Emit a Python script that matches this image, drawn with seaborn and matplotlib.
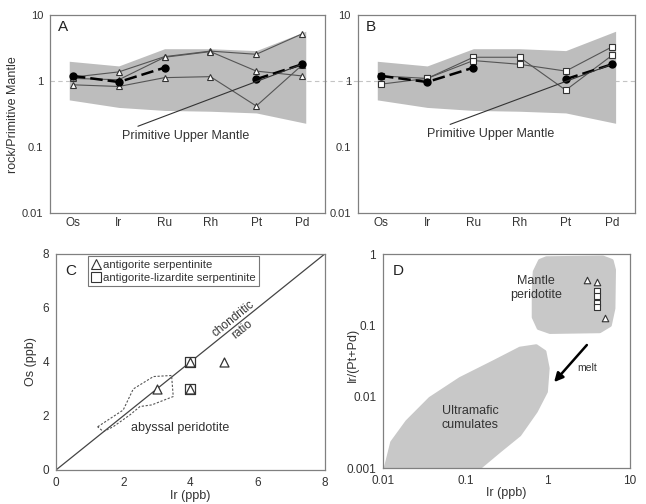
import numpy as np
import pandas as pd
import matplotlib
matplotlib.use('Agg')
import matplotlib.pyplot as plt
from matplotlib.lines import Line2D
from matplotlib.patches import Polygon
from matplotlib.ticker import FixedLocator, NullLocator, FuncFormatter
import seaborn as sns

sns.set_theme(style="white")
plt.rcParams['font.family'] = ['Liberation Sans', 'DejaVu Sans']

# --- data ---
elements = ['Os', 'Ir', 'Ru', 'Rh', 'Pt', 'Pd']

# primitive upper mantle range (gray band) and the PUM pattern
band_hi = [2.0, 1.7, 3.1, 3.1, 2.9, 5.7]
band_lo = [0.52, 0.40, 0.36, 0.35, 0.33, 0.23]
pum = [1.2, 0.97, 1.6, np.nan, 1.07, 1.8]

# panel A: antigorite serpentinites (triangles)
tri_1 = [1.15, 1.38, 2.35, 2.85, 2.55, 5.2]
tri_2 = [1.10, 1.05, 2.30, 2.80, 1.42, 1.2]
tri_3 = [0.88, 0.83, 1.13, 1.17, 0.42, 1.75]

# panel B: antigorite-lizardite serpentinites (squares)
sq_1 = [1.2, 1.1, 2.3, 2.3, 0.73, 2.45]
sq_2 = [0.9, 1.1, 2.05, 1.8, 1.42, 3.3]

# panel C: Os vs Ir (ppb)
c_tri_ir = [3, 4, 4, 5]
c_tri_os = [3, 4, 3, 4]
c_sq_ir = [4, 4]
c_sq_os = [4, 3]
abyssal_ir = [1.24, 2.0, 2.3, 2.9, 3.44, 3.49, 2.85, 2.5, 2.2, 1.7, 1.41]
abyssal_os = [1.6, 2.22, 3.0, 3.46, 3.5, 2.72, 2.41, 2.35, 2.04, 1.6, 1.42]

# panel D: Ir/(Pt+Pd) vs Ir
d_tri_ir = [3, 4, 5]
d_tri_ratio = [0.43, 0.40, 0.125]
d_sq_ir = [4, 4, 4, 4]
d_sq_ratio = [0.30, 0.26, 0.205, 0.178]
mantle_ir = [0.97, 4.7, 6.0, 6.4, 6.3, 5.7, 4.3, 1.07, 0.78, 0.68, 0.68, 0.70, 0.81]
mantle_ratio = [0.87, 0.89, 0.80, 0.60, 0.173, 0.101, 0.083, 0.081, 0.092, 0.13,
                0.3, 0.565, 0.80]
cumul_ir = [0.0106, 0.0127, 0.0194, 0.037, 0.086, 0.22, 0.46, 0.73, 0.93, 1.02,
            0.97, 0.73, 0.46, 0.26, 0.15]
cumul_ratio = [0.001, 0.0023, 0.0045, 0.0095, 0.018, 0.031, 0.048, 0.052, 0.043,
               0.025, 0.0117, 0.0062, 0.0029, 0.0017, 0.001]

# --- style ---
SPINE = '#808080'
TXT = '#333333'
LINE = '#555555'
BAND = '#bdbdbd'
BLOB = '#c8c8c8'

fig = plt.figure(figsize=(6.46, 5.04), dpi=100)
axA = fig.add_axes([0.0774, 0.577, 0.4257, 0.393])
axB = fig.add_axes([0.554, 0.577, 0.429, 0.393])
axC = fig.add_axes([0.0867, 0.0675, 0.416, 0.4286])
axD = fig.add_axes([0.593, 0.0714, 0.382, 0.4246])


def style_axes(ax):
    for s in ax.spines.values():
        s.set_color(SPINE)
        s.set_linewidth(0.9)
    ax.tick_params(axis='both', which='major', direction='out', length=3,
                   width=0.8, color=SPINE, labelcolor=TXT, labelsize=8, pad=2)
    ax.tick_params(which='minor', length=0)


def spider(ax, samples, marker, label, text_xy, relpos, extend_line):
    pos = np.arange(len(elements))
    band_x = pos.astype(float)
    band_x[0] -= 0.08
    band_x[-1] += 0.08
    ax.set_yscale('log')
    ax.fill_between(band_x, band_lo, band_hi, color=BAND, lw=0, zorder=1)
    ax.axhline(1, xmin=0, xmax=extend_line, color='#c4c4c4', lw=0.8,
               dashes=(4, 3), zorder=0.5, clip_on=False)

    rows = []
    for i, vals in enumerate(samples):
        for p, v in zip(pos, vals):
            rows.append({'pos': p, 'value': v, 'sample': i})
    df = pd.DataFrame(rows)
    sns.lineplot(data=df, x='pos', y='value', units='sample', estimator=None,
                 color=LINE, lw=0.8, marker=marker, ms=5, mfc='white',
                 mec='#333333', mew=0.8, ax=ax, zorder=3, legend=False)

    ax.plot(pos, pum, color='black', lw=1.8, dashes=(5, 2), marker='o', ms=5,
            zorder=4)

    ax.annotate('Primitive Upper Mantle', xy=(5, 1.8), xytext=text_xy,
                fontsize=9, color=TXT, ha='center', va='center',
                arrowprops=dict(arrowstyle='-', color='#333333', lw=0.8,
                                relpos=relpos, shrinkA=0, shrinkB=2),
                zorder=5)

    ax.set_xlim(-0.5, 5.5)
    ax.set_ylim(0.01, 10)
    ax.yaxis.set_major_locator(FixedLocator([0.01, 0.1, 1, 10]))
    ax.yaxis.set_minor_locator(NullLocator())
    ax.yaxis.set_major_formatter(FuncFormatter(lambda v, _: f'{v:g}'))
    ax.set_xticks(pos + 0.5)
    ax.set_xticklabels([])
    ax.set_xticks(pos, minor=True)
    ax.set_xticklabels(elements, minor=True)
    style_axes(ax)
    ax.tick_params(axis='x', which='minor', length=0, labelsize=8.5,
                   labelcolor=TXT, pad=3)
    ax.text(0.03, 0.975, label, transform=ax.transAxes, fontsize=11,
            color='#222222', ha='left', va='top')
    ax.set_xlabel('')
    ax.set_ylabel('')


spider(axA, [tri_1, tri_2, tri_3], '^', 'A', (2.45, 0.15), (0.06, 1.0), 1.13)
spider(axB, [sq_1, sq_2], 's', 'B', (2.38, 0.16), (0.11, 1.0), 1.0)
axA.set_ylabel('rock/Primitive Mantle', fontsize=9, color=TXT, labelpad=2)

# --- panel C ---
axC.plot([0, 8], [0, 8], color='#444444', lw=0.9, zorder=2)
axC.add_patch(Polygon(np.column_stack([abyssal_ir, abyssal_os]), closed=True,
                      fill=False, ls=(0, (2, 1.5)), ec='#555555', lw=0.8,
                      zorder=2))
sns.scatterplot(x=c_sq_ir, y=c_sq_os, marker='s', s=42, color='white',
                edgecolor='#333333', linewidth=0.9, ax=axC, zorder=3)
sns.scatterplot(x=c_tri_ir, y=c_tri_os, marker='^', s=42, color='white',
                edgecolor='#333333', linewidth=0.9, ax=axC, zorder=4)
axC.text(5.4, 5.4, 'chondritic\nratio', rotation=45,
         transform_rotates_text=True, rotation_mode='anchor', ha='center',
         va='center', fontsize=8.5, color=TXT, linespacing=1.25)
axC.text(3.7, 1.55, 'abyssal peridotite', fontsize=9, color=TXT,
         ha='center', va='center')
axC.set_xlim(0, 8)
axC.set_ylim(0, 8)
axC.set_xticks([0, 2, 4, 6, 8])
axC.set_yticks([0, 2, 4, 6, 8])
style_axes(axC)
axC.tick_params(labelsize=8.5)
axC.set_xlabel('Ir (ppb)', fontsize=9, color=TXT, labelpad=1)
axC.set_ylabel('Os (ppb)', fontsize=9, color=TXT, labelpad=4)
axC.text(0.035, 0.955, 'C', transform=axC.transAxes, fontsize=11,
         color='#222222', ha='left', va='top')
handles = [
    Line2D([], [], ls='none', marker='^', ms=6.5, mfc='white', mec='#333333',
           mew=0.8, label='antigorite serpentinite'),
    Line2D([], [], ls='none', marker='s', ms=6.5, mfc='white', mec='#333333',
           mew=0.8, label='antigorite-lizardite serpentinite'),
]
leg = axC.legend(handles=handles, loc='upper left', bbox_to_anchor=(0.12, 0.99),
                 fontsize=8.2, frameon=True, fancybox=False, borderpad=0.3,
                 handlelength=0.7, handletextpad=0.3, labelspacing=0.3,
                 borderaxespad=0)
leg.get_frame().set_edgecolor('#555555')
leg.get_frame().set_linewidth(0.8)
for t in leg.get_texts():
    t.set_color(TXT)

# --- panel D ---
axD.set_xscale('log')
axD.set_yscale('log')
axD.add_patch(Polygon(np.column_stack([mantle_ir, mantle_ratio]), closed=True,
                      fc=BLOB, ec=BLOB, lw=3, joinstyle='round', zorder=1))
axD.add_patch(Polygon(np.column_stack([cumul_ir, cumul_ratio]), closed=True,
                      fc=BLOB, ec=BLOB, lw=2, joinstyle='round', zorder=1))
sns.scatterplot(x=d_sq_ir, y=d_sq_ratio, marker='s', s=22, color='white',
                edgecolor='#333333', linewidth=0.8, ax=axD, zorder=3)
sns.scatterplot(x=d_tri_ir, y=d_tri_ratio, marker='^', s=22, color='white',
                edgecolor='#333333', linewidth=0.8, ax=axD, zorder=3)
axD.text(0.73, 0.33, 'Mantle\nperidotite', fontsize=9, color=TXT,
         ha='center', va='center', linespacing=1.2)
axD.text(0.115, 0.005, 'Ultramafic\ncumulates', fontsize=9, color=TXT,
         ha='center', va='center', linespacing=1.2)
axD.annotate('', xy=(1.2, 0.016), xytext=(3.0, 0.053),
             arrowprops=dict(arrowstyle='-|>', color='black', lw=1.8,
                             mutation_scale=13, shrinkA=0, shrinkB=0))
axD.text(2.3, 0.025, 'melt', fontsize=7.5, color=TXT, ha='left', va='center')
axD.set_xlim(0.01, 10)
axD.set_ylim(0.001, 1)
axD.xaxis.set_major_locator(FixedLocator([0.01, 0.1, 1, 10]))
axD.yaxis.set_major_locator(FixedLocator([0.001, 0.01, 0.1, 1]))
axD.xaxis.set_minor_locator(NullLocator())
axD.yaxis.set_minor_locator(NullLocator())
fmt = FuncFormatter(lambda v, _: f'{v:g}')
axD.xaxis.set_major_formatter(fmt)
axD.yaxis.set_major_formatter(fmt)
style_axes(axD)
axD.tick_params(labelsize=8.5)
axD.set_xlabel('Ir (ppb)', fontsize=9, color=TXT, labelpad=0)
axD.set_ylabel('Ir/(Pt+Pd)', fontsize=9, color=TXT)
axD.yaxis.set_label_coords(-0.10, 0.53)
axD.text(0.04, 0.955, 'D', transform=axD.transAxes, fontsize=11,
         color='#222222', ha='left', va='top')

fig.savefig('out.png', dpi=100)
